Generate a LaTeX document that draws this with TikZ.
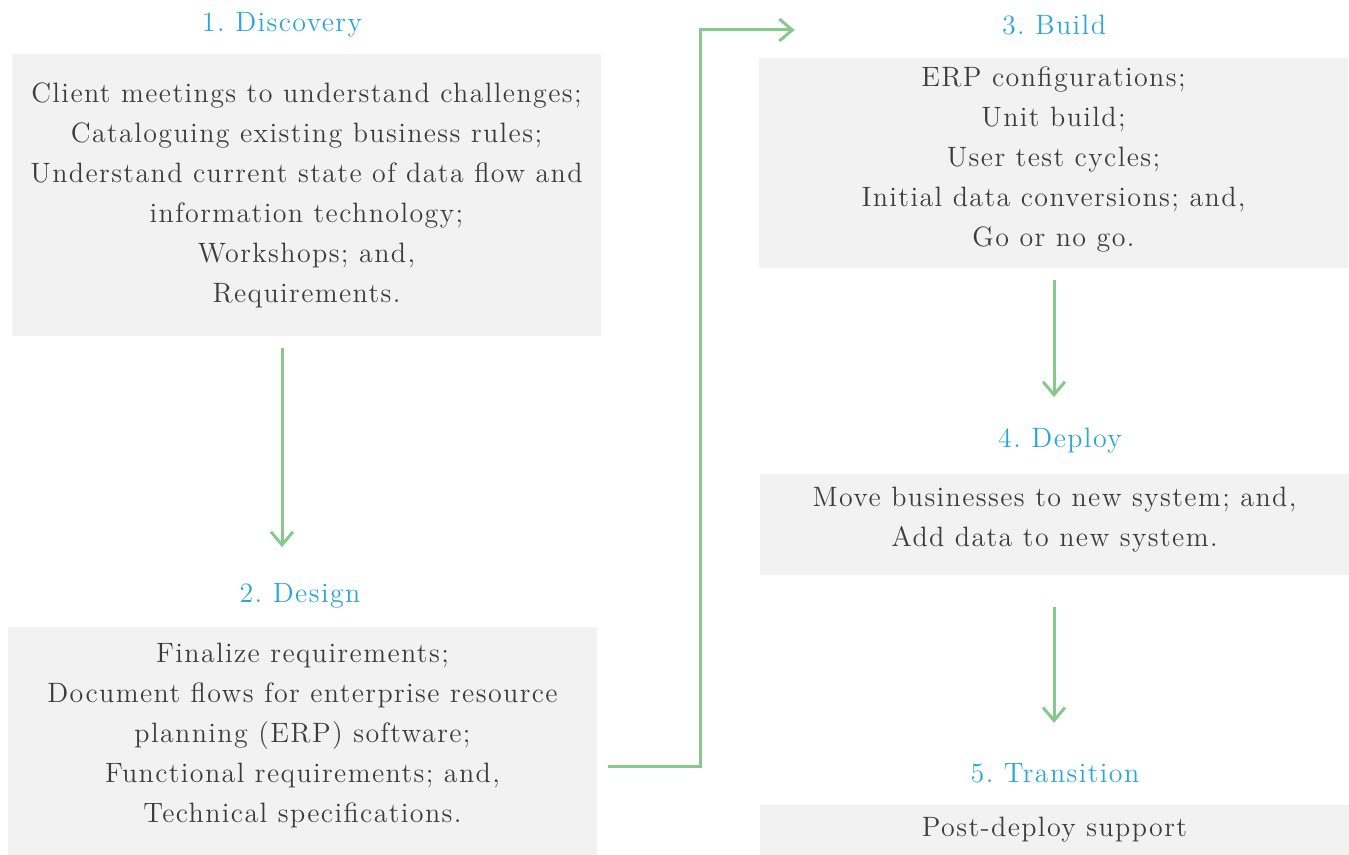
\documentclass[tikz,border=0pt]{standalone}
\usepackage{fontspec}
\setmainfont{Latin Modern Roman}[LetterSpace=5]
\usepackage{xcolor}
\usetikzlibrary{arrows.meta,positioning}
\definecolor{headblue}{HTML}{2AA6DC}
\definecolor{flowgreen}{HTML}{86C98A}
\definecolor{boxgray}{HTML}{F2F2F2}
\definecolor{textgray}{HTML}{3C3C3C}

\begin{document}
\begin{tikzpicture}[x=0.5pt,y=-0.5pt,
		head/.style={text=headblue,inner sep=0pt,font=\fontsize{14}{20}\selectfont\frenchspacing},
		box/.style={fill=boxgray,text=textgray,align=center,minimum width=294.5pt,inner sep=0pt,font=\fontsize{14}{20}\selectfont\frenchspacing},
		flow/.style={draw=flowgreen,line width=1.5pt,-{Straight Barb[length=6.5pt,width=11pt]}}]
		\useasboundingbox (0,0) rectangle (1349,855);
		% left column
		\node[head] (discoveryhead) at (282,25) {1. Discovery};
		\node[box,minimum height=141pt] (discovery) at (306.5,195) {Client meetings to understand challenges;\\Cataloguing existing business rules;\\Understand current state of data flow and\\information technology;\\Workshops; and,\\Requirements.};
		\node[head] (designhead) at (300,596) {2. Design};
		\node[box,minimum height=114pt] (design) at (302.5,741) {Finalize requirements;\\Document flows for enterprise resource\\planning (ERP) software;\\Functional requirements; and,\\Technical specifications.\\[-12pt]};
		% right column
		\node[head] (buildhead) at (1054,25) {3. Build};
		\node[box,minimum height=105pt] (build) at (1053.5,163) {ERP configurations;\\Unit build;\\User test cycles;\\Initial data conversions; and,\\Go or no go.\\[-14pt]};
		\node[head] (deployhead) at (1060,441) {4. Deploy};
		\node[box,minimum height=50.5pt] (deploy) at (1054.5,524.5) {Move businesses to new system; and,\\Add data to new system.\\[-12pt]};
		\node[head] (transhead) at (1055,773) {5. Transition};
		\node[box,minimum height=25pt] (trans) at (1054.5,830) {Post-deploy support};
		% arrows
		\draw[flow,shorten <=6pt,shorten >=18pt] (discovery.south -| discoveryhead.south) -- (designhead.north -| discoveryhead.south);
		\coordinate (elbow) at (700,30);
		\draw[flow] ([xshift=5.5pt,yshift=-12.5pt]design.east) -| (elbow) -- ([xshift=-103.5pt,yshift=-2.5pt]buildhead.west);
		\draw[flow,shorten <=6pt,shorten >=15.5pt] (build.south -| buildhead.south) -- (deployhead.north -| buildhead.south);
		\draw[flow,shorten <=16pt,shorten >=20pt] (deploy.south -| buildhead.south) -- (transhead.north -| buildhead.south);
\end{tikzpicture}
\end{document}
